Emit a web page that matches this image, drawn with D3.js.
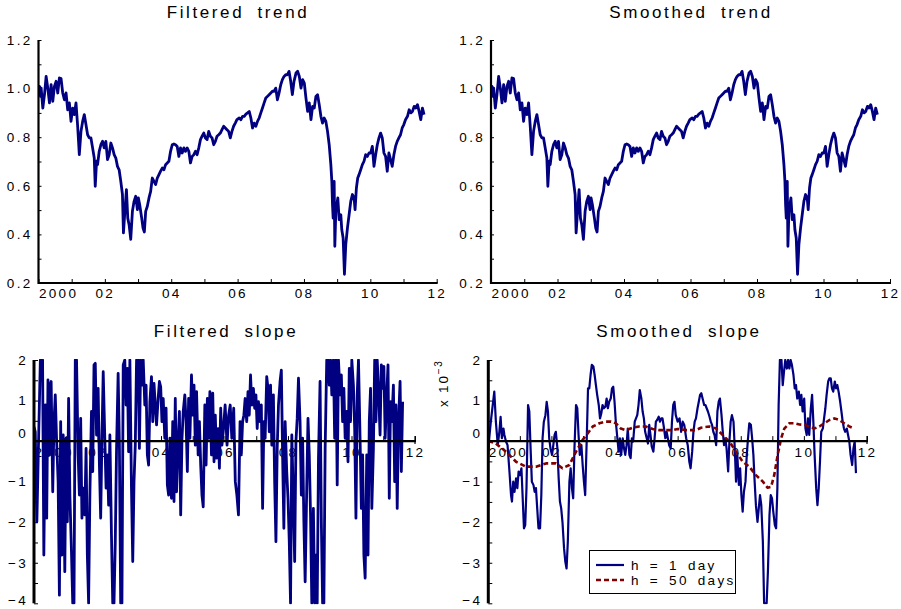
<!DOCTYPE html>
<html><head><meta charset="utf-8">
<script src="https://cdn.jsdelivr.net/npm/d3@7"></script>
<style>
body{margin:0;background:#fff;}
svg text{font-family:"Liberation Sans",Arial,sans-serif;fill:#000;}
</style></head><body>
<svg id="c" width="901" height="609"></svg>
<script>
// ---------- data ----------
const years = [2000,2001,2002,2003,2004,2005,2006,2007,2008,2009,2010,2011,2012];
const yearLabels = ["2000","","02","","04","","06","","08","","10","","12"];
const trendTicks = [0.2,0.4,0.6,0.8,1.0,1.2];
const trendTickLabels = ["0.2","0.4","0.6","0.8","1.0","1.2"];
const trendMinor = [0.2,0.3,0.4,0.5,0.6,0.7,0.8,0.9,1.0,1.1,1.2];
const slopeTicks = [-4,-3,-2,-1,0,1,2];
const slopeTickLabels = ["\u22124","\u22123","\u22122","\u22121","0","1","2"];
const slopeMinor = [-4,-3.5,-3,-2.5,-2,-1.5,-1,-0.5,0,0.5,1,1.5,2];
const legendLabels = ["h = 1 day","h = 50 days"];

// trend (same for filtered and smoothed panels)
const trend = [
[2000.00,0.989],[2000.03,1.009],[2000.06,0.968],[2000.08,1.002],[2000.13,0.920],[2000.18,0.975],[2000.23,1.050],[2000.28,1.002],[2000.33,0.941],[2000.38,1.016],[2000.43,0.948],[2000.48,1.009],[2000.53,1.030],[2000.58,0.982],[2000.63,1.044],[2000.68,1.041],[2000.73,0.982],[2000.78,0.954],[2000.83,0.982],[2000.88,0.913],[2000.93,0.941],[2000.98,0.865],[2001.03,0.920],[2001.08,0.893],[2001.13,0.941],[2001.18,0.845],[2001.23,0.728],[2001.28,0.824],[2001.33,0.865],[2001.38,0.893],[2001.43,0.852],[2001.48,0.810],[2001.53,0.797],[2001.58,0.797],[2001.63,0.756],[2001.68,0.714],[2001.71,0.598],[2001.75,0.701],[2001.78,0.687],[2001.83,0.742],[2001.88,0.769],[2001.93,0.783],[2001.98,0.756],[2002.03,0.783],[2002.08,0.708],[2002.13,0.728],[2002.18,0.776],[2002.23,0.756],[2002.28,0.728],[2002.33,0.714],[2002.38,0.680],[2002.43,0.666],[2002.48,0.618],[2002.53,0.564],[2002.56,0.406],[2002.61,0.509],[2002.65,0.584],[2002.69,0.467],[2002.73,0.440],[2002.78,0.380],[2002.83,0.495],[2002.88,0.536],[2002.93,0.557],[2002.98,0.502],[2003.01,0.550],[2003.05,0.522],[2003.11,0.467],[2003.15,0.426],[2003.19,0.410],[2003.23,0.495],[2003.28,0.516],[2003.33,0.550],[2003.38,0.577],[2003.43,0.632],[2003.48,0.618],[2003.53,0.605],[2003.58,0.632],[2003.63,0.646],[2003.68,0.660],[2003.73,0.673],[2003.78,0.666],[2003.83,0.687],[2003.88,0.694],[2003.93,0.701],[2003.98,0.742],
[2004.03,0.769],[2004.08,0.772],[2004.13,0.769],[2004.18,0.762],[2004.23,0.721],[2004.28,0.756],[2004.33,0.735],[2004.38,0.756],[2004.43,0.742],[2004.48,0.756],[2004.53,0.742],[2004.58,0.694],[2004.63,0.721],[2004.68,0.728],[2004.73,0.742],[2004.78,0.728],[2004.83,0.756],[2004.88,0.790],[2004.93,0.804],[2004.98,0.817],[2005.03,0.797],[2005.08,0.790],[2005.13,0.824],[2005.18,0.804],[2005.23,0.797],[2005.28,0.769],[2005.33,0.783],[2005.38,0.804],[2005.43,0.810],[2005.48,0.817],[2005.53,0.831],[2005.58,0.845],[2005.63,0.838],[2005.68,0.831],[2005.73,0.824],[2005.78,0.797],[2005.83,0.824],[2005.88,0.845],[2005.93,0.858],[2005.98,0.872],
[2006.05,0.879],[2006.10,0.872],[2006.15,0.886],[2006.20,0.886],[2006.25,0.895],[2006.30,0.900],[2006.35,0.906],[2006.40,0.879],[2006.45,0.838],[2006.50,0.858],[2006.55,0.845],[2006.60,0.865],[2006.65,0.879],[2006.70,0.900],[2006.75,0.920],[2006.80,0.941],[2006.85,0.961],[2006.90,0.968],[2006.95,0.975],[2007.00,0.982],[2007.05,0.989],[2007.10,0.989],[2007.15,1.002],[2007.20,0.954],[2007.25,0.982],[2007.30,1.016],[2007.35,1.037],[2007.40,1.050],[2007.45,1.057],[2007.50,1.057],[2007.55,1.071],[2007.60,1.030],[2007.65,0.975],[2007.70,1.030],[2007.76,1.064],[2007.81,1.071],[2007.86,1.050],[2007.91,1.002],[2007.96,1.037],
[2008.01,1.023],[2008.06,0.961],[2008.11,0.906],[2008.16,0.941],[2008.21,0.872],[2008.26,0.927],[2008.31,0.920],[2008.36,0.968],[2008.41,0.975],[2008.46,0.934],[2008.51,0.886],[2008.56,0.858],[2008.61,0.879],[2008.66,0.865],[2008.71,0.824],[2008.76,0.769],[2008.81,0.687],[2008.84,0.618],[2008.86,0.522],[2008.88,0.467],[2008.91,0.618],[2008.93,0.351],[2008.96,0.495],[2008.99,0.522],[2009.02,0.550],[2009.06,0.461],[2009.11,0.481],[2009.14,0.419],[2009.18,0.385],[2009.22,0.236],[2009.26,0.358],[2009.31,0.426],[2009.36,0.481],[2009.41,0.536],[2009.46,0.564],[2009.51,0.550],[2009.54,0.502],[2009.58,0.591],[2009.62,0.632],[2009.66,0.646],[2009.71,0.666],[2009.76,0.687],[2009.81,0.701],[2009.86,0.728],[2009.91,0.721],[2009.96,0.735],
[2010.01,0.735],[2010.06,0.762],[2010.11,0.680],[2010.16,0.728],[2010.21,0.769],[2010.26,0.797],[2010.31,0.817],[2010.36,0.797],[2010.41,0.735],[2010.46,0.721],[2010.51,0.660],[2010.56,0.735],[2010.61,0.708],[2010.66,0.680],[2010.71,0.728],[2010.76,0.762],[2010.81,0.783],[2010.86,0.797],[2010.91,0.810],[2010.96,0.838],[2011.01,0.852],[2011.06,0.872],[2011.12,0.886],[2011.17,0.913],[2011.22,0.900],[2011.27,0.906],[2011.32,0.927],[2011.37,0.920],[2011.42,0.934],[2011.47,0.906],[2011.52,0.872],[2011.57,0.920],[2011.62,0.893]
];

// filtered slope (x 10^-3)
const filteredSlope = [
[2000.00,0.35],[2000.04,0.23],[2000.09,-1.99],[2000.15,0.23],[2000.20,2.0],[2000.27,2.0],[2000.31,-2.81],[2000.36,0.89],[2000.40,-1.90],[2000.44,1.51],[2000.48,-0.34],[2000.51,1.38],[2000.54,1.47],[2000.59,-1.25],[2000.63,0.48],[2000.67,1.14],[2000.71,0.07],[2000.76,-1.00],[2000.80,-3.80],[2000.84,0.48],[2000.88,-2.81],[2000.92,0.15],[2000.97,-3.22],
[2001.01,0.07],[2001.05,-1.99],[2001.09,1.05],[2001.13,-1.33],[2001.18,-2.73],[2001.22,-4],[2001.26,-4],[2001.30,2.0],[2001.34,2.0],[2001.39,-0.34],[2001.43,-1.33],[2001.47,0.56],[2001.51,-1.90],[2001.55,-1.16],[2001.60,-1.82],[2001.64,-0.18],[2001.68,-2.81],[2001.72,-4],[2001.76,-1.33],[2001.81,0.73],[2001.85,-0.75],[2001.89,1.88],[2001.93,1.92],[2001.97,0.15],
[2002.02,1.30],[2002.06,-0.59],[2002.10,-1.90],[2002.14,0.07],[2002.18,1.71],[2002.23,0.07],[2002.27,-1.16],[2002.31,-0.34],[2002.35,-1.58],[2002.39,0.15],[2002.44,-2.32],[2002.48,-4],[2002.52,-4],[2002.56,-2.48],[2002.60,-0.18],[2002.65,1.67],[2002.69,-0.10],[2002.73,-4],[2002.77,-4],[2002.81,1.88],[2002.86,2.0],[2002.90,0.89],[2002.94,1.79],[2002.98,-0.26],
[2003.02,2.0],[2003.07,-1.16],[2003.11,-2.97],[2003.15,-1.00],[2003.19,-0.10],[2003.23,2.0],[2003.28,2.0],[2003.32,-0.18],[2003.36,2.0],[2003.40,1.38],[2003.44,2.0],[2003.49,0.89],[2003.53,1.38],[2003.57,-0.34],[2003.61,-0.59],[2003.65,0.97],[2003.70,1.59],[2003.74,0.48],[2003.78,1.42],[2003.82,0.89],[2003.86,0.40],[2003.91,1.05],[2003.95,1.47],[2003.99,1.34],
[2004.03,0.48],[2004.07,1.05],[2004.12,0.07],[2004.16,0.81],[2004.20,-1.08],[2004.24,-1.33],[2004.28,0.07],[2004.33,-1.41],[2004.37,0.48],[2004.41,-1.49],[2004.45,1.05],[2004.49,-1.25],[2004.54,0.03],[2004.58,0.73],[2004.62,-1.82],[2004.66,0.03],[2004.70,0.73],[2004.75,1.14],[2004.79,0.48],[2004.83,-0.75],[2004.87,1.05],[2004.91,0.07],[2004.96,1.63],
[2005.00,0.64],[2005.04,1.38],[2005.08,-0.10],[2005.12,1.22],[2005.17,-0.34],[2005.21,0.48],[2005.25,-0.59],[2005.29,-1.33],[2005.33,-1.62],[2005.38,0.89],[2005.42,-0.59],[2005.46,1.05],[2005.50,0.07],[2005.54,1.22],[2005.59,-0.34],[2005.63,1.18],[2005.67,-0.51],[2005.71,0.64],[2005.75,-0.42],[2005.80,0.31],[2005.84,-0.67],[2005.88,0.81],[2005.92,-0.10],[2005.96,0.23],
[2006.02,0.89],[2006.08,-0.10],[2006.13,0.64],[2006.18,0.89],[2006.23,0.07],[2006.29,0.81],[2006.34,-1.00],[2006.39,-1.33],[2006.44,-1.82],[2006.49,0.48],[2006.53,-0.34],[2006.57,0.48],[2006.61,0.64],[2006.65,1.05],[2006.70,0.48],[2006.74,1.22],[2006.78,0.64],[2006.82,1.63],[2006.86,0.89],[2006.91,1.30],[2006.95,0.81],[2006.99,1.14],
[2007.03,0.31],[2007.07,0.97],[2007.12,0.48],[2007.16,0.89],[2007.20,-1.66],[2007.24,0.48],[2007.28,0.07],[2007.33,1.59],[2007.37,1.30],[2007.41,0.23],[2007.45,1.38],[2007.49,-0.10],[2007.54,1.14],[2007.58,-1.00],[2007.62,-2.48],[2007.66,-0.18],[2007.70,0.89],[2007.75,1.47],[2007.79,1.75],[2007.83,-0.34],[2007.87,-2.15],[2007.91,0.48],[2007.96,-0.75],
[2008.00,-1.41],[2008.04,-2.48],[2008.08,-4],[2008.12,0.15],[2008.17,-1.49],[2008.21,-2.97],[2008.25,-0.01],[2008.29,0.56],[2008.33,1.55],[2008.38,0.48],[2008.42,-1.33],[2008.46,0.07],[2008.50,-1.99],[2008.54,-3.47],[2008.59,-1.16],[2008.63,0.56],[2008.67,-0.34],[2008.71,-1.82],[2008.75,-4],[2008.80,-1.66],[2008.84,-4],[2008.88,-2.81],[2008.92,-4],[2008.96,-0.42],
[2009.01,1.47],[2009.05,-1.99],[2009.09,-4],[2009.13,-4],[2009.17,-0.18],[2009.22,2.0],[2009.26,2.0],[2009.30,1.38],[2009.34,2.0],[2009.38,1.14],[2009.43,2.0],[2009.47,0.07],[2009.51,2.0],[2009.55,-1.08],[2009.59,2.0],[2009.64,1.14],[2009.68,1.63],[2009.72,0.48],[2009.76,1.30],[2009.80,0.07],[2009.85,0.73],[2009.89,-0.51],[2009.93,1.79],[2009.97,0.48],
[2010.01,2.0],[2010.06,1.38],[2010.10,0.31],[2010.14,-1.90],[2010.18,1.14],[2010.22,2.0],[2010.27,0.07],[2010.31,-1.66],[2010.35,-0.34],[2010.39,-2.81],[2010.43,-3.38],[2010.48,-0.34],[2010.52,-2.81],[2010.56,0.48],[2010.60,1.30],[2010.64,-1.66],[2010.69,-0.18],[2010.73,2.0],[2010.77,0.48],[2010.81,2.0],[2010.85,1.30],[2010.90,0.15],[2010.94,1.88],[2010.98,1.30],
[2011.02,1.84],[2011.06,0.07],[2011.11,1.14],[2011.15,1.88],[2011.19,-1.41],[2011.23,0.97],[2011.27,0.48],[2011.32,1.38],[2011.36,-1.00],[2011.40,0.89],[2011.44,-1.66],[2011.48,0.48],[2011.53,1.47],[2011.57,-0.75],[2011.61,0.97]
];

// smoothed slope, h = 1 day (x 10^-3)
const smoothedSlope1 = [
[2000.00,-0.34],[2000.03,0.07],[2000.08,0.48],[2000.14,0.89],[2000.19,1.22],[2000.24,0.48],[2000.30,-0.10],[2000.35,0.23],[2000.39,0.60],[2000.43,0.07],[2000.48,0.31],[2000.51,0.15],[2000.56,-0.01],[2000.61,-0.10],[2000.67,-0.75],[2000.72,-1.33],[2000.75,-1.49],[2000.79,-1.00],[2000.83,-1.25],[2000.88,-0.92],[2000.92,-1.16],[2000.96,-0.75],
[2001.00,-0.84],[2001.05,-0.67],[2001.09,-1.41],[2001.13,-2.15],[2001.17,-2.07],[2001.21,-1.16],[2001.26,0.89],[2001.30,0.73],[2001.34,-0.18],[2001.38,-1.00],[2001.43,-1.08],[2001.47,-1.25],[2001.51,-1.16],[2001.55,-1.66],[2001.59,-2.15],[2001.64,-2.15],[2001.68,-1.33],[2001.72,0.07],[2001.76,0.48],[2001.81,0.64],[2001.85,0.97],[2001.89,0.73],[2001.93,0.07],[2001.97,-0.18],
[2002.02,-0.34],[2002.06,-0.10],[2002.10,0.15],[2002.14,0.23],[2002.19,-0.18],[2002.23,-0.92],[2002.27,-1.49],[2002.31,-1.66],[2002.35,-1.99],[2002.40,-2.64],[2002.44,-2.97],[2002.48,-3.14],[2002.52,-2.48],[2002.57,-1.00],[2002.61,-0.67],[2002.65,-1.16],[2002.69,-1.41],[2002.73,-0.18],[2002.78,0.89],[2002.82,0.81],[2002.86,0.15],[2002.90,-0.34],[2002.95,-0.10],[2002.99,-0.59],
[2003.03,-1.00],[2003.07,-1.33],[2003.12,0.07],[2003.16,1.30],[2003.20,1.30],[2003.24,1.63],[2003.28,1.88],[2003.33,1.84],[2003.37,1.63],[2003.41,1.38],[2003.45,1.14],[2003.50,0.89],[2003.54,0.56],[2003.58,0.68],[2003.62,0.89],[2003.66,0.81],[2003.71,0.85],[2003.75,1.05],[2003.79,0.81],[2003.83,0.97],[2003.88,1.05],[2003.92,1.30],[2003.96,1.34],
[2004.00,0.97],[2004.04,0.48],[2004.09,0.07],[2004.13,-0.26],[2004.17,0.07],[2004.21,-0.34],[2004.26,0.07],[2004.30,-0.18],[2004.34,-0.34],[2004.38,-0.10],[2004.42,0.31],[2004.47,-0.34],[2004.51,-0.42],[2004.55,0.07],[2004.59,-0.01],[2004.64,0.48],[2004.68,0.56],[2004.72,0.64],[2004.76,0.89],[2004.80,1.26],[2004.85,1.05],[2004.89,0.73],[2004.93,0.56],[2004.97,0.23],
[2005.02,0.07],[2005.06,-0.06],[2005.10,0.40],[2005.14,0.15],[2005.18,-0.14],[2005.23,-0.26],[2005.27,0.07],[2005.31,0.48],[2005.35,0.52],[2005.40,0.60],[2005.44,0.48],[2005.48,0.56],[2005.52,0.56],[2005.56,0.36],[2005.61,0.07],[2005.65,0.23],[2005.69,0.07],[2005.73,-0.10],[2005.78,-0.18],[2005.82,0.48],[2005.86,0.89],[2005.90,0.97],[2005.94,0.64],
[2006.00,0.48],[2006.06,0.56],[2006.11,0.23],[2006.16,0.48],[2006.21,0.40],[2006.27,0.07],[2006.32,-0.10],[2006.37,-0.51],[2006.41,-0.67],[2006.46,-0.26],[2006.50,0.23],[2006.54,0.48],[2006.58,0.56],[2006.63,0.81],[2006.67,0.97],[2006.71,1.14],[2006.75,1.18],[2006.79,1.05],[2006.84,0.89],[2006.88,0.89],[2006.92,0.81],[2006.96,0.73],
[2007.01,0.60],[2007.05,0.48],[2007.09,0.40],[2007.13,0.23],[2007.17,0.15],[2007.22,-0.10],[2007.26,0.73],[2007.30,0.97],[2007.34,1.05],[2007.39,0.64],[2007.43,0.23],[2007.47,-0.10],[2007.51,0.07],[2007.55,-0.18],[2007.60,-0.75],[2007.64,-0.01],[2007.68,0.48],[2007.72,0.64],[2007.77,0.48],[2007.81,-0.18],[2007.85,-1.00],[2007.89,-0.34],[2007.94,-1.08],[2007.98,-0.67],
[2008.02,-1.33],[2008.06,-1.74],[2008.10,-1.25],[2008.15,-1.00],[2008.19,-0.34],[2008.23,0.07],[2008.27,0.44],[2008.32,0.40],[2008.36,0.07],[2008.40,-0.34],[2008.44,-1.00],[2008.48,-1.58],[2008.53,-1.99],[2008.57,-1.66],[2008.61,-1.33],[2008.65,-1.58],[2008.70,-2.48],[2008.74,-4],[2008.78,-4],[2008.82,-4],[2008.86,-3.22],[2008.91,-1.82],[2008.95,-1.33],[2008.99,-1.41],
[2009.03,-1.74],[2009.08,-2.07],[2009.12,-2.15],[2009.16,-1.16],[2009.20,0.89],[2009.24,2.0],[2009.29,2.0],[2009.33,1.38],[2009.37,1.71],[2009.41,2.0],[2009.46,1.79],[2009.50,2.0],[2009.54,1.79],[2009.58,2.0],[2009.62,1.88],[2009.67,1.63],[2009.71,1.30],[2009.75,1.38],[2009.79,1.05],[2009.84,1.22],[2009.88,0.89],[2009.92,1.14],[2009.96,0.73],
[2010.01,1.05],[2010.05,0.31],[2010.09,0.15],[2010.13,0.56],[2010.17,0.15],[2010.22,0.81],[2010.26,1.14],[2010.30,0.48],[2010.34,-0.34],[2010.39,-1.16],[2010.43,-1.58],[2010.47,-1.16],[2010.51,-0.51],[2010.55,0.23],[2010.60,0.31],[2010.64,0.56],[2010.68,0.81],[2010.72,1.14],[2010.77,1.47],[2010.81,1.55],[2010.85,1.55],[2010.89,1.30],[2010.93,1.22],[2010.98,1.47],
[2011.02,1.30],[2011.06,1.38],[2011.10,1.22],[2011.15,0.97],[2011.19,0.73],[2011.23,0.48],[2011.27,0.31],[2011.31,0.23],[2011.36,0.31],[2011.40,0.15],[2011.44,-0.01],[2011.48,-0.34],[2011.53,-0.59],[2011.57,-0.18],[2011.61,-0.01],[2011.65,-0.79]
];

// smoothed slope, h = 50 days (x 10^-3)
const smoothedSlope50 = [
[2000.00,0.00],[2000.24,-0.06],[2000.56,-0.26],[2000.88,-0.51],[2001.19,-0.63],[2001.51,-0.63],[2001.83,-0.55],[2002.14,-0.55],[2002.35,-0.67],[2002.57,-0.59],[2002.78,-0.26],[2002.99,0.03],[2003.15,0.19],[2003.31,0.36],[2003.52,0.44],[2003.73,0.48],[2003.89,0.48],[2004.04,0.44],[2004.20,0.31],[2004.36,0.27],[2004.57,0.33],[2004.78,0.36],[2004.99,0.36],[2005.21,0.30],[2005.42,0.27],[2005.63,0.27],[2005.84,0.27],
[2006.00,0.30],[2006.27,0.27],[2006.58,0.27],[2006.74,0.33],[2007.01,0.36],[2007.22,0.31],[2007.43,0.15],[2007.64,-0.01],[2007.85,-0.26],[2008.06,-0.51],[2008.27,-0.63],[2008.48,-0.84],[2008.70,-1.00],[2008.85,-1.15],[2008.96,-1.13],[2009.06,-0.84],[2009.17,-0.34],[2009.28,0.07],[2009.38,0.31],[2009.54,0.44],[2009.70,0.44],[2009.86,0.41],[2010.02,0.40],[2010.17,0.36],[2010.33,0.31],[2010.49,0.36],[2010.65,0.44],[2010.81,0.52],[2010.97,0.56],[2011.12,0.52],[2011.28,0.44],[2011.44,0.36],[2011.60,0.31]
];

// ---------- drawing ----------
const svg = d3.select("#c");
const NAVY = "#000080", DARKRED = "#800000";
const FS = 13.5, LS = 2.3;

function title(text, cx, y) {
  svg.append("text").attr("x", cx).attr("y", y).attr("text-anchor", "middle")
    .style("font-size", "17px").style("letter-spacing", "2.6px").style("word-spacing", "6px")
    .text(text);
}

function styleAxisText(g) {
  g.selectAll("text").style("font-size", FS + "px").style("letter-spacing", LS + "px")
   .style("font-family", '"Liberation Sans",Arial,sans-serif').attr("fill", "#000");
  g.selectAll("line").attr("stroke", "#000").attr("stroke-width", 1);
}

function panel(opt) {
  const x = d3.scaleLinear().domain([2000, 2012]).range([opt.x0, opt.x1]);
  const y = d3.scaleLinear().domain(opt.ydom).range([opt.yb, opt.yt]);
  const root = svg.append("g");
  const id = "clip" + Math.round(opt.x0);
  svg.append("clipPath").attr("id", id).append("rect")
    .attr("x", opt.x0).attr("y", opt.yt - 1).attr("width", opt.x1 - opt.x0 + 2).attr("height", opt.yb - opt.yt + 2);

  const xAxisY = opt.zeroAxis ? y(0) : opt.yb;
  // y minor ticks
  const gyMinor = root.append("g").attr("transform", `translate(${opt.x0},0)`)
    .call(d3.axisLeft(y).tickValues(opt.minor).tickSize(-opt.tickLen).tickSizeOuter(0).tickFormat(""));
  gyMinor.select(".domain").remove();
  styleAxisText(gyMinor);
  // y labels
  const gy = root.append("g").attr("transform", `translate(${opt.x0},0)`)
    .call(d3.axisLeft(y).tickValues(opt.major).tickSize(0).tickPadding(6)
      .tickFormat((d, i) => opt.majorLabels[i]));
  gy.select(".domain").remove();
  styleAxisText(gy);
  if (opt.zeroAxis) {
    gy.selectAll(".tick").filter(d => d === 0).select("text").attr("y", -8);
    gy.selectAll(".tick").filter(d => d === opt.ydom[0]).select("text").attr("y", -3);
  }
  // x axis
  const gx = root.append("g").attr("transform", `translate(0,${xAxisY})`)
    .call(d3.axisBottom(x).tickValues(years).tickSize(-opt.xTickLen).tickSizeOuter(0)
      .tickPadding(opt.xPad).tickFormat((d, i) => yearLabels[i]));
  gx.select(".domain").remove();
  styleAxisText(gx);
  gx.selectAll(".tick").filter(d => d === 2000).select("text").attr("text-anchor", "start").attr("x", 0);

  // data
  const dataG = root.append("g").attr("clip-path", `url(#${id})`);
  opt.series.forEach(s => {
    const line = d3.line().x(d => x(d[0])).y(d => y(Math.max(opt.ydom[0], Math.min(opt.ydom[1], d[1]))));
    const p = dataG.append("path").datum(s.data).attr("d", line)
      .attr("fill", "none").attr("stroke", s.color).attr("stroke-width", s.width)
      .attr("stroke-linejoin", "round");
    if (s.dash) p.attr("stroke-dasharray", s.dash);
  });

  // axis lines on top
  root.append("line").attr("x1", opt.x0).attr("x2", opt.x0).attr("y1", opt.yt).attr("y2", opt.yb + (opt.zeroAxis ? 0 : 1))
    .attr("stroke", "#000").attr("stroke-width", opt.yAxisW);
  root.append("line").attr("x1", opt.x0).attr("x2", opt.x1 + 1).attr("y1", xAxisY).attr("y2", xAxisY)
    .attr("stroke", "#000").attr("stroke-width", opt.xAxisW);
  if (opt.zeroAxis) {
    root.append("line").attr("x1", opt.x1).attr("x2", opt.x1).attr("y1", xAxisY - 5).attr("y2", xAxisY + 3)
      .attr("stroke", "#000").attr("stroke-width", 1.2);
  }
  return {x, y};
}

// top panels
title("Filtered trend", 238, 18);
panel({x0: 38.5, x1: 436.7, yt: 40, yb: 283, ydom: [0.2, 1.2],
  major: trendTicks, majorLabels: trendTickLabels, minor: trendMinor, tickLen: 3,
  xTickLen: 4, xPad: 5.5, yAxisW: 2.2, xAxisW: 2, zeroAxis: false,
  series: [{data: trend, color: NAVY, width: 2.8}]});

title("Smoothed trend", 691, 18);
panel({x0: 491, x1: 890, yt: 40, yb: 283, ydom: [0.2, 1.2],
  major: trendTicks, majorLabels: trendTickLabels, minor: trendMinor, tickLen: 3,
  xTickLen: 4, xPad: 5.5, yAxisW: 2.2, xAxisW: 2, zeroAxis: false,
  series: [{data: trend, color: NAVY, width: 2.8}]});

// bottom panels
title("Filtered slope", 226, 337);
panel({x0: 34, x1: 415, yt: 360, yb: 603.3, ydom: [-4, 2],
  major: slopeTicks, majorLabels: slopeTickLabels, minor: slopeMinor, tickLen: 4,
  xTickLen: 5, xPad: 6.5, yAxisW: 3, xAxisW: 2.4, zeroAxis: true,
  series: [{data: filteredSlope, color: NAVY, width: 2.8}]});

title("Smoothed slope", 679, 337);
panel({x0: 488.3, x1: 867, yt: 360, yb: 603.3, ydom: [-4, 2],
  major: slopeTicks, majorLabels: slopeTickLabels, minor: slopeMinor, tickLen: 4,
  xTickLen: 5, xPad: 6.5, yAxisW: 3, xAxisW: 2.4, zeroAxis: true,
  series: [{data: smoothedSlope1, color: NAVY, width: 2.2},
           {data: smoothedSlope50, color: DARKRED, width: 2.6, dash: "5,3"}]});

// exponent label
const ex = svg.append("text").attr("transform", "translate(448,407) rotate(-90)")
  .style("font-size", FS + "px").style("letter-spacing", "1.8px");
ex.append("tspan").text("x 10");
ex.append("tspan").attr("dy", -6).style("font-size", "10px").text("\u22123");

// legend
const lg = svg.append("g");
lg.append("rect").attr("x", 589.5).attr("y", 550.5).attr("width", 146).attr("height", 43)
  .attr("fill", "#fff").attr("stroke", "#000").attr("stroke-width", 1);
const legendSeries = [{color: NAVY, width: 2.2, dash: null}, {color: DARKRED, width: 2.6, dash: "5,3"}];
legendLabels.forEach((t, i) => {
  const yy = 565 + i * 15;
  const l = lg.append("line").attr("x1", 596).attr("x2", 624).attr("y1", yy).attr("y2", yy)
    .attr("stroke", legendSeries[i].color).attr("stroke-width", legendSeries[i].width);
  if (legendSeries[i].dash) l.attr("stroke-dasharray", legendSeries[i].dash);
  lg.append("text").attr("x", 631).attr("y", yy + 4.5).style("font-size", FS + "px")
    .style("letter-spacing", LS + "px").style("word-spacing", "3px").text(t);
});
</script>
</body></html>
